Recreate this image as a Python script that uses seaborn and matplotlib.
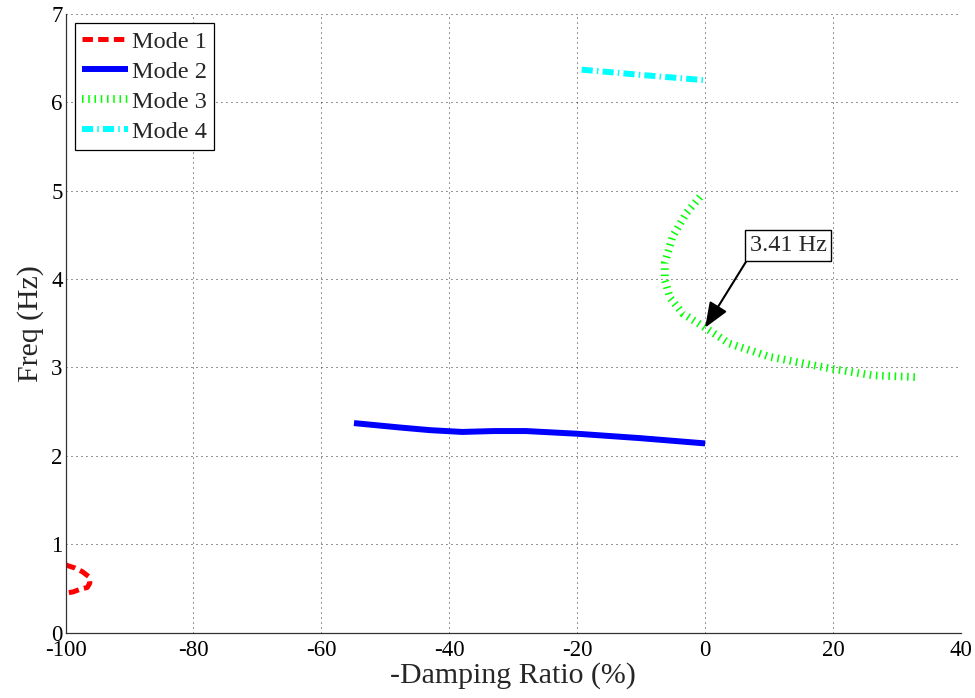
import matplotlib
matplotlib.use("Agg")
import matplotlib.pyplot as plt
import seaborn as sns
import pandas as pd

# ---- data ----
mode1_x = [-100.0, -99.8, -98.5, -97.4, -96.3, -96.2, -96.6, -97.7, -98.8, -99.6]
mode1_y = [0.77, 0.76, 0.73, 0.69, 0.63, 0.56, 0.51, 0.49, 0.46, 0.45]

mode2_x = [-54.9, -47.7, -43.0, -38.0, -33.0, -28.0, -20.1, -10.2, 0.0]
mode2_y = [2.37, 2.32, 2.29, 2.27, 2.28, 2.28, 2.25, 2.20, 2.14]

mode3_x = [-0.8, -2.9, -5.1, -6.3, -6.3, -5.5, -3.5, 0.0, 3.8, 10.1, 19.4, 26.2, 33.1]
mode3_y = [4.93, 4.75, 4.48, 4.18, 3.99, 3.79, 3.61, 3.45, 3.27, 3.12, 2.99, 2.91, 2.89]

mode4_x = [-19.3, -10.0, 0.0]
mode4_y = [6.37, 6.31, 6.25]

labels = ["Mode 1", "Mode 2", "Mode 3", "Mode 4"]
colors = ["#ff0000", "#0000ff", "#00ff00", "#00ffff"]

x_ticks = [-100, -80, -60, -40, -20, 0, 20, 40]
y_ticks = [0, 1, 2, 3, 4, 5, 6, 7]

annot_text = "3.41 Hz"
annot_xy = (0.0, 3.45)
annot_text_xy = (12.97, 4.38)

# ---- style ----
sns.set_style("white")
plt.rcParams["font.family"] = ["Liberation Serif", "DejaVu Serif"]
plt.rcParams["lines.scale_dashes"] = False

fig = plt.figure(figsize=(9.75, 6.98), dpi=100)
ax = fig.add_axes([0.0672, 0.0938, 0.9184, 0.8862])

series = [(mode1_x, mode1_y), (mode2_x, mode2_y), (mode3_x, mode3_y), (mode4_x, mode4_y)]
widths = [3.6, 4.3, 5.6, 4.3]
dash_specs = [(0, (7.5, 3.8)), None, (0, (1.1, 3.4)), (0, (8, 3, 1.1, 3))]

for (xs, ys), lab, col, lw, ds in zip(series, labels, colors, widths, dash_specs):
    df = pd.DataFrame({"x": xs, "y": ys})
    sns.lineplot(data=df, x="x", y="y", sort=False, estimator=None, color=col,
                 linewidth=lw, label=lab, ax=ax)
    line = ax.lines[-1]
    line.set_solid_capstyle("butt")
    line.set_dash_capstyle("butt")
    line.set_solid_joinstyle("round")
    if ds is not None:
        line.set_linestyle(ds)

ax.set_xlim(-100, 40)
ax.set_ylim(0, 7)
ax.set_xticks(x_ticks)
ax.set_yticks(y_ticks)
ax.set_xticklabels([str(v) for v in x_ticks])
ax.set_yticklabels([str(v) for v in y_ticks])

ax.set_xlabel("-Damping Ratio (%)", fontsize=21.5, labelpad=1)
ax.set_ylabel("Freq (Hz)", fontsize=21.5, labelpad=5)
ax.tick_params(axis="both", direction="in", length=4, width=0.8, labelsize=16.5,
               colors="black")
ax.tick_params(axis="x", pad=5.5)
ax.tick_params(axis="y", pad=2)

ax.grid(True, color="black", linewidth=0.6, linestyle=(0, (0.7, 2.9)))
for s in ["top", "right"]:
    ax.spines[s].set_visible(False)
for s in ["left", "bottom"]:
    ax.spines[s].set_color("#333333")
    ax.spines[s].set_linewidth(0.9)

leg = ax.legend(loc="upper left", fontsize=17.5, frameon=True, fancybox=False,
                framealpha=1, edgecolor="black", borderaxespad=0.38,
                handlelength=1.9, handletextpad=0.15, labelspacing=0.33,
                borderpad=0.3)
leg.get_frame().set_linewidth(0.9)

ax.annotate(annot_text, xy=annot_xy, xytext=annot_text_xy, fontsize=17.5,
            ha="center", va="center",
            bbox=dict(boxstyle="square,pad=0.2", fc="white", ec="black", lw=1.0),
            arrowprops=dict(arrowstyle="-|>,head_length=0.7,head_width=0.28",
                            color="black", lw=1.5, relpos=(0, 0),
                            shrinkA=0, shrinkB=0, mutation_scale=22))

fig.savefig("out.png", dpi=100)
